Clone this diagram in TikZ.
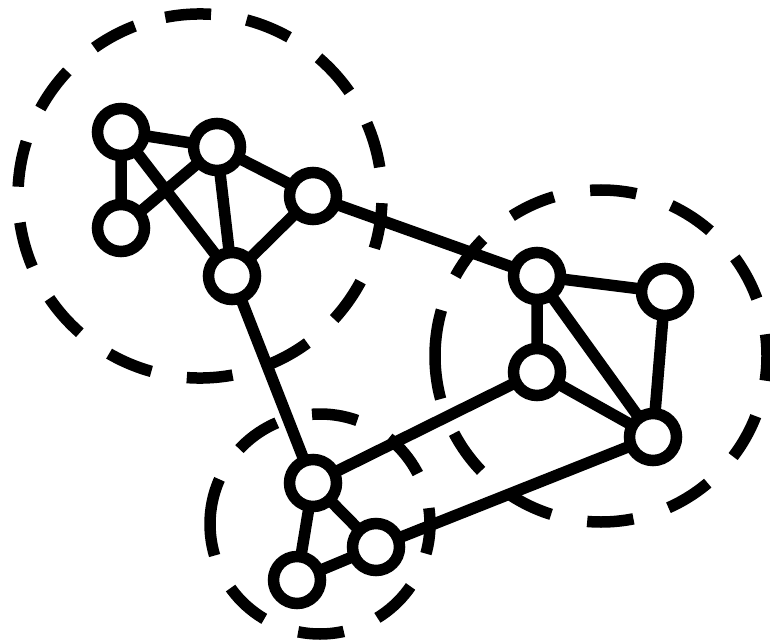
\documentclass[tikz,border=0pt]{standalone}
\begin{document}
\begin{tikzpicture}[x=1pt,y=-1pt,line width=11.5pt,
  vertex/.style={circle,draw=black,fill=white,minimum size=47pt,inner sep=0pt},
  cluster/.style={draw=black,dash pattern=on 46pt off 36pt},
  link/.style={draw=black}]
\useasboundingbox (0,0) rectangle (770,644);
% clusters
\draw[cluster] (200,196) ++(259:182) arc[start angle=259,end angle=619,radius=182];
\draw[cluster,dash pattern=on 46.5pt off 36.8pt] (601,356) ++(180:166) arc[start angle=180,end angle=540,radius=166];
\draw[cluster,dash pattern=on 46pt off 36.4pt] (320,524) ++(180:110) arc[start angle=180,end angle=540,radius=110];
% nodes (coordinates first)
\coordinate (pA) at (121,132);
\coordinate (pB) at (217,147);
\coordinate (pC) at (121,228);
\coordinate (pD) at (313,196);
\coordinate (pE) at (232,276);
\coordinate (pF) at (537,276);
\coordinate (pG) at (665,292);
\coordinate (pH) at (537,372);
\coordinate (pI) at (653,437);
\coordinate (pJ) at (313,483);
\coordinate (pK) at (376,547);
\coordinate (pL) at (297,580);
% edges
\draw[link] (pA)--(pB) (pA)--(pC) (pC)--(pB) (pA)--(pE) (pB)--(pE) (pB)--(pD) (pE)--(pD);
\draw[link] (pD)--(pF) (pE)--(pJ);
\draw[link] (pF)--(pG) (pF)--(pH) (pF)--(pI) (pG)--(pI) (pH)--(pI);
\draw[link] (pH)--(pJ) (pI)--(pK) (pJ)--(pK) (pJ)--(pL) (pL)--(pK);
% vertices
\foreach \n in {A,B,C,D,E,F,G,H,I,J,K,L}
  \node[vertex] (\n) at (p\n) {};
\end{tikzpicture}
\end{document}
